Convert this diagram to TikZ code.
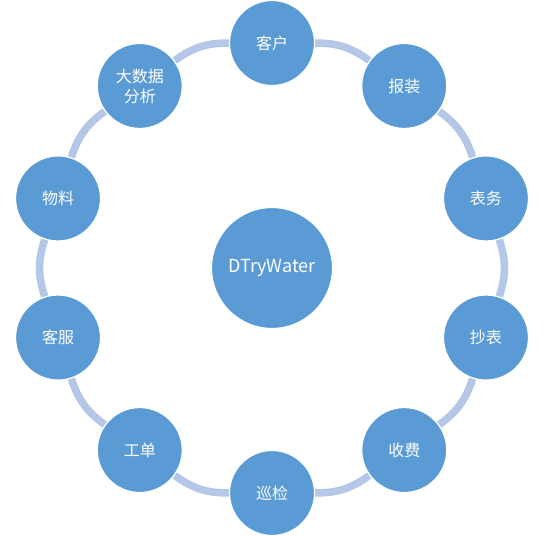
\documentclass[tikz,border=0pt]{standalone}
\usepackage{fontspec}
\setmainfont{Noto Sans CJK SC}
\usetikzlibrary{positioning,backgrounds,calc}
\definecolor{hub}{HTML}{5B9BD5}
\definecolor{ring}{HTML}{B4C7E7}

\begin{document}
\begin{tikzpicture}[x=1pt, y=1pt,
      core/.style={circle, draw=white, fill=hub, line width=1.2pt,
      minimum size=121pt, text=white, font=\fontsize{18}{22}\selectfont},
      mod/.style={circle, draw=white, fill=hub, line width=1.2pt,
      minimum size=85pt, inner sep=0pt, text=white, align=center,
      font=\fontsize{16}{20}\selectfont},
      link/.style={ring, line width=7.5pt},
    ]
    \useasboundingbox (0,0) rectangle (548,536);
    \node[core] (dtw) at (272,268) {DTryWater};

    % outer ring of modules
    \foreach \i/\txt in {0/客户, 1/报装, 2/表务, 3/抄表, 4/收费,
                         5/巡检, 6/工单, 7/客服, 8/物料, 9/{大数据\\分析}}
      \node[mod] (m\i) at ($(dtw)+({90-36*\i}:225)$) {\txt};

    % ring segments between neighbours
    \begin{scope}[on background layer]
      \foreach \i [evaluate=\i as \j using {int(mod(\i+1,10))}] in {0,...,9}
        \draw[link] (m\i) to[bend left=18] (m\j);
    \end{scope}
  \end{tikzpicture}
\end{document}
